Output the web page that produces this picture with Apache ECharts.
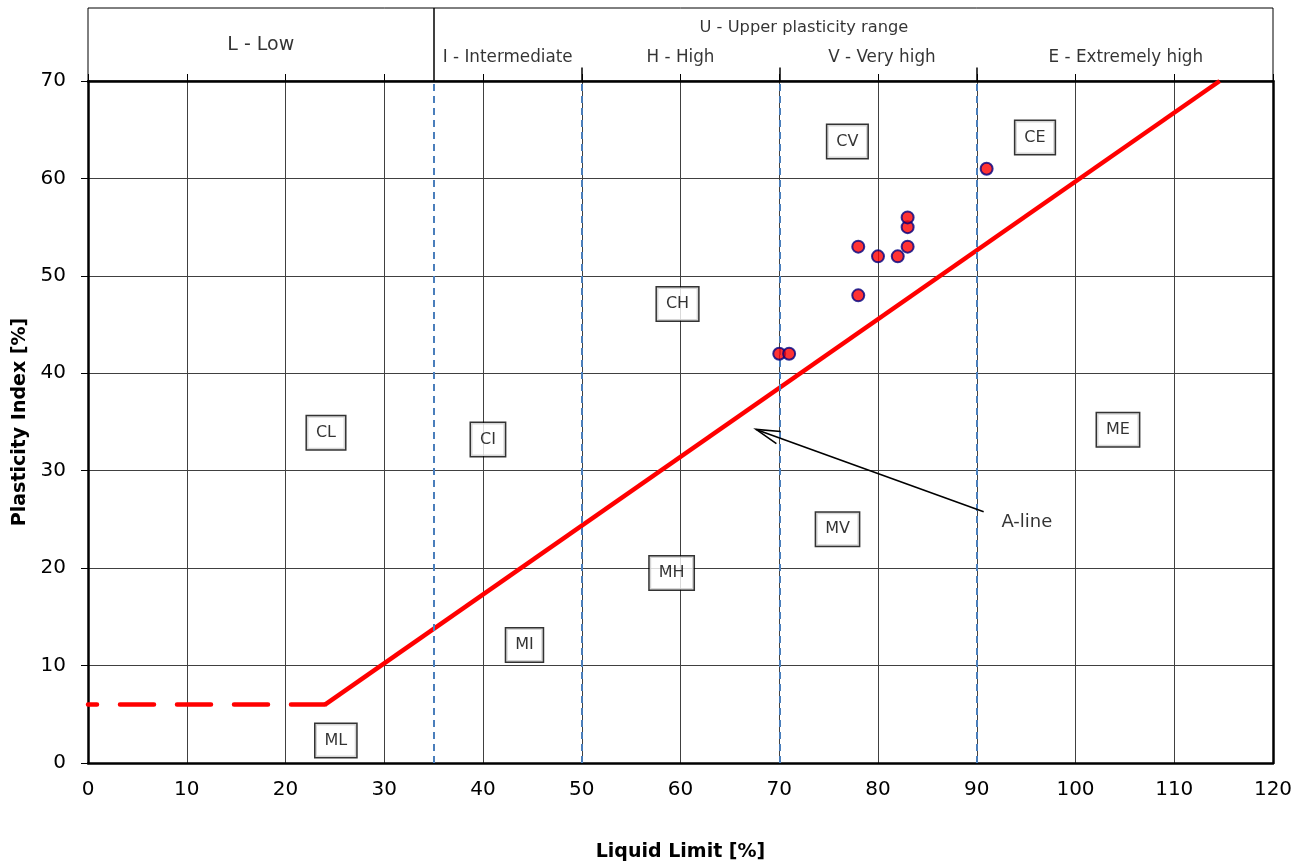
<!DOCTYPE html>
<html>
<head>
<meta charset="utf-8">
<script src="https://cdn.jsdelivr.net/npm/echarts@6/dist/echarts.min.js"></script>
<style>html,body{margin:0;padding:0;background:#fff;}#chart{width:1311px;height:865px;}</style>
</head>
<body>
<div id="chart"></div>
<script>
// ---- data ----
const liquidLimit = [70, 71, 78, 78, 80, 82, 83, 83, 83, 91];
const plasticityIndex = [42, 42, 48, 53, 52, 52, 53, 55, 56, 61];
const aLineX = [24, 114.6];
const aLineY = [6, 70];
const aLineExtX = [24, 0];
const aLineExtY = [6, 6];
const zoneNames = ['CL', 'CI', 'CH', 'CV', 'CE', 'ML', 'MI', 'MH', 'MV', 'ME'];
const zoneX = [24.1, 40.5, 59.7, 76.9, 95.9, 25.1, 44.2, 59.1, 75.9, 104.3];
const zoneY = [33.9, 33.2, 47.1, 63.8, 64.2, 2.3, 12.1, 19.5, 24.0, 34.2];
const rangeBounds = [35, 50, 70, 90];
const headerMain = ['L - Low', 'U - Upper plasticity range'];
const headerMainX = [17.5, 72.5];
const headerMainY = [1.48, 2.18];
const headerSub = ['I - Intermediate', 'H - High', 'V - Very high', 'E - Extremely high'];
const headerSubX = [42.5, 60, 80.4, 105.1];
const headerSubY = [0.945, 0.945, 0.945, 0.945];
const arrowFrom = [90.7, 25.8];
const arrowTo = [67.65, 34.24];
const aLineLabel = 'A-line';
const aLineLabelPos = [92.5, 24.66];

const FONT = 'DejaVu Sans';
const chart = echarts.init(document.getElementById('chart'));

function renderArrow(params, api) {
  const p1 = api.coord([api.value(0), api.value(1)]);
  const p2 = api.coord([api.value(2), api.value(3)]);
  const dx = p2[0] - p1[0], dy = p2[1] - p1[1];
  const len = Math.sqrt(dx * dx + dy * dy);
  const ux = dx / len, uy = dy / len;
  const hl = 24, hw = 6.5;
  const bx = p2[0] - ux * hl, by = p2[1] - uy * hl;
  const a = [bx - uy * hw, by + ux * hw], b = [bx + uy * hw, by - ux * hw];
  return {
    type: 'group',
    children: [
      { type: 'line', shape: { x1: p1[0], y1: p1[1], x2: p2[0], y2: p2[1] }, style: { stroke: '#000', lineWidth: 1.6 } },
      { type: 'polyline', shape: { points: [a, p2, b] }, style: { stroke: '#000', lineWidth: 1.6, fill: null } }
    ]
  };
}

const plainLabel = { textBorderWidth: 0, textShadowBlur: 0, color: '#000', fontFamily: FONT };

const option = {
  backgroundColor: '#fff',
  animation: false,
  textStyle: { fontFamily: FONT, color: '#000' },
  grid: [
    { left: 88, right: 38, top: 81, bottom: 102, containLabel: false, outerBoundsMode: 'none' },
    { left: 88, right: 38, top: 8, height: 73, show: true, borderColor: '#000', borderWidth: 1, backgroundColor: 'transparent', containLabel: false, outerBoundsMode: 'none' }
  ],
  xAxis: [
    {
      gridIndex: 0, type: 'value', min: 0, max: 120, interval: 10, position: 'bottom',
      name: 'Liquid Limit [%]', nameLocation: 'middle', nameGap: 80,
      nameTextStyle: { fontFamily: FONT, fontWeight: 'bold', fontSize: 19, color: '#000' },
      axisLine: { show: true, onZero: false, lineStyle: { color: '#000', width: 2.5 } },
      axisTick: { show: false },
      axisLabel: { fontFamily: FONT, fontSize: 20, color: '#000', margin: 17 },
      splitLine: { show: true, lineStyle: { color: '#404040', width: 1 } }
    },
    {
      gridIndex: 0, type: 'value', min: 0, max: 120, interval: 10, position: 'top',
      axisLine: { show: true, onZero: false, lineStyle: { color: '#000', width: 2.5 } },
      axisTick: { show: true, inside: false, length: 7, lineStyle: { color: '#000', width: 1 } },
      axisLabel: { show: false },
      splitLine: { show: false }
    },
    {
      gridIndex: 1, type: 'value', min: 0, max: 120, show: false
    }
  ],
  yAxis: [
    {
      gridIndex: 0, type: 'value', min: 0, max: 70, interval: 10, position: 'left',
      name: 'Plasticity Index [%]', nameLocation: 'middle', nameGap: 57, nameRotate: 90,
      nameTextStyle: { fontFamily: FONT, fontWeight: 'bold', fontSize: 19, color: '#000' },
      axisLine: { show: true, onZero: false, lineStyle: { color: '#000', width: 2.5 } },
      axisTick: { show: true, inside: false, length: 7, lineStyle: { color: '#000', width: 1 } },
      axisLabel: { fontFamily: FONT, fontSize: 20, color: '#000', margin: 22 },
      splitLine: { show: true, lineStyle: { color: '#404040', width: 1 } }
    },
    {
      gridIndex: 0, type: 'value', min: 0, max: 70, interval: 10, position: 'right',
      axisLine: { show: true, onZero: false, lineStyle: { color: '#000', width: 2.5 } },
      axisTick: { show: false }, axisLabel: { show: false }, splitLine: { show: false }
    },
    {
      gridIndex: 1, type: 'value', min: 0, max: 3, show: false
    }
  ],
  series: [
    // range boundaries (dashed blue)
    {
      type: 'line', xAxisIndex: 0, yAxisIndex: 0, data: [], silent: true, z: 3,
      markLine: {
        silent: true, symbol: ['none', 'none'], label: { show: false },
        lineStyle: { color: '#4a7ebb', width: 2, type: [7, 5] },
        data: rangeBounds.map(v => ({ xAxis: v }))
      }
    },
    // A-line extension (dashed)
    {
      type: 'line', xAxisIndex: 0, yAxisIndex: 0, showSymbol: false, symbol: 'none', silent: true, z: 4,
      data: aLineExtX.map((x, i) => [x, aLineExtY[i]]),
      lineStyle: { color: '#ff0000', width: 4.5, type: [34, 23], cap: 'round' }
    },
    // A-line
    {
      type: 'line', xAxisIndex: 0, yAxisIndex: 0, showSymbol: false, symbol: 'none', silent: true, z: 4,
      data: aLineX.map((x, i) => [x, aLineY[i]]),
      lineStyle: { color: '#ff0000', width: 4.5 }
    },
    // zone labels
    {
      type: 'scatter', xAxisIndex: 0, yAxisIndex: 0, symbolSize: 0, silent: true, z: 5,
      data: zoneNames.map((n, i) => ({ name: n, value: [zoneX[i], zoneY[i]] })),
      label: Object.assign({}, plainLabel, {
        show: true, position: 'inside', formatter: p => p.name,
        fontSize: 16,
        backgroundColor: '#fff', borderColor: '#000', borderWidth: 1.5,
        padding: [9, 9, 8, 9]
      })
    },
    // arrow
    {
      type: 'custom', xAxisIndex: 0, yAxisIndex: 0, silent: true, z: 6,
      renderItem: renderArrow,
      data: [[arrowFrom[0], arrowFrom[1], arrowTo[0], arrowTo[1]]]
    },
    // A-line label
    {
      type: 'scatter', xAxisIndex: 0, yAxisIndex: 0, symbolSize: 0, silent: true, z: 6,
      data: [{ name: aLineLabel, value: aLineLabelPos }],
      label: Object.assign({}, plainLabel, { show: true, position: 'right', distance: 0, formatter: p => p.name, fontSize: 18 })
    },
    // data points
    {
      type: 'scatter', xAxisIndex: 0, yAxisIndex: 0, symbol: 'circle', symbolSize: 12, z: 10,
      data: liquidLimit.map((x, i) => [x, plasticityIndex[i]]),
      itemStyle: { color: '#ff0000', borderColor: '#000080', borderWidth: 2 }
    },
    // header dividers
    {
      type: 'line', xAxisIndex: 2, yAxisIndex: 2, data: [], silent: true,
      markLine: {
        silent: true, symbol: ['none', 'none'], label: { show: false },
        lineStyle: { color: '#000', width: 1.5, type: 'solid' },
        data: [
          [{ coord: [rangeBounds[0], 0] }, { coord: [rangeBounds[0], 3] }],
          [{ coord: [rangeBounds[1], 0] }, { coord: [rangeBounds[1], 0.55] }],
          [{ coord: [rangeBounds[2], 0] }, { coord: [rangeBounds[2], 0.55] }],
          [{ coord: [rangeBounds[3], 0] }, { coord: [rangeBounds[3], 0.55] }]
        ]
      }
    },
    // header main labels
    {
      type: 'scatter', xAxisIndex: 2, yAxisIndex: 2, symbolSize: 0, silent: true,
      data: headerMain.map((n, i) => ({ name: n, value: [headerMainX[i], headerMainY[i]] })),
      label: Object.assign({}, plainLabel, { show: true, position: 'inside', formatter: p => p.name, fontSize: 16.3 })
    },
    // header sub labels
    {
      type: 'scatter', xAxisIndex: 2, yAxisIndex: 2, symbolSize: 0, silent: true,
      data: headerSub.map((n, i) => ({ name: n, value: [headerSubX[i], headerSubY[i]] })),
      label: Object.assign({}, plainLabel, { show: true, position: 'inside', formatter: p => p.name, fontSize: 16.8 })
    }
  ]
};
option.series[8].data[0].label = { fontSize: 19 };
chart.setOption(option);
</script>
</body>
</html>
